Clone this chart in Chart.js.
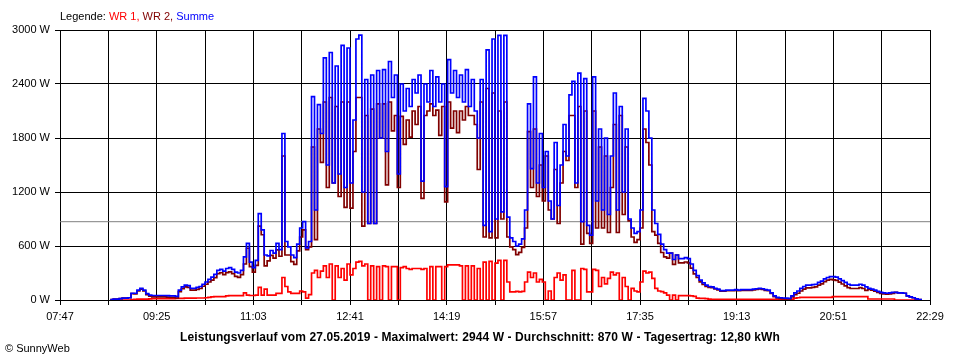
<!DOCTYPE html>
<html>
<head>
<meta charset="utf-8">
<script src="https://cdn.jsdelivr.net/npm/chart.js@4.4.1/dist/chart.umd.min.js"></script>
<style>
	body { margin: 0; background: #fff; }
	#wrap { position: relative; width: 960px; height: 360px; font-family: "Liberation Sans", Arial, sans-serif; font-size: 11px; line-height: 11px; color: #000; }
	#wrap div { position: absolute; white-space: nowrap; }
	#legende { left: 60px; top: 11px; }
	#titel { left: 0; width: 960px; top: 331px; text-align: center; font-weight: bold; font-size: 12px; line-height: 12px; letter-spacing: 0.1px; }
	#copy { left: 5px; top: 343px; }
</style>
</head>
<body>
<div id="wrap">
	<canvas id="leistung" width="960" height="360"></canvas>
	<div id="legende">Legende: <span style="color:#ff0000">WR 1,</span> <span style="color:#800000">WR 2,</span> <span style="color:#0000ff">Summe</span></div>
	<div id="titel">Leistungsverlauf vom 27.05.2019 - Maximalwert: 2944 W - Durchschnitt: 870 W - Tagesertrag: 12,80 kWh</div>
	<div id="copy">© SunnyWeb</div>
</div>
<script>
// Minuten ab 07:47, Messwerte alle 3 Minuten ab 08:38
const ersteMinute = 51;
const intervall = 3;
const achseEnde = 882;

const zeitLabels = ["07:47", "09:25", "11:03", "12:41", "14:19", "15:57", "17:35", "19:13", "20:51", "22:29"];
const durchschnitt = 870;

const summe = [
	5, 10, 10, 15, 20, 20, 25, 75, 75, 110,
	130, 110, 70, 55, 50, 50, 50, 50, 50, 48,
	45, 45, 40, 110, 145, 165, 160, 130, 130, 140,
	150, 175, 200, 230, 255, 285, 330, 340, 320, 350,
	360, 340, 310, 300, 330, 480, 630, 420, 360, 440,
	960, 780, 500, 490, 550, 520, 630, 560, 1850, 650,
	590, 500, 470, 620, 800,
	870, 580, 650, 2260, 1000, 2170, 1850, 2690, 1500, 2750,
	1300, 2600, 1400, 2830, 1250, 2800, 1300, 2000, 2900, 2944,
	1200, 2450, 850, 2500, 850, 2550, 1800, 2560, 1650, 2650,
	2250, 2500, 1400, 2400, 2100, 2350, 2150,
	2450, 2300, 2500, 1320, 2400, 2200, 2550, 2150, 2480, 2200,
	2400, 1260, 2670, 2300, 2550, 2250, 2500, 2200, 2560, 2150,
	2450, 2100, 1800, 2450, 830, 2780, 760, 2900, 900, 2940,
	980, 2940, 920, 690, 650, 600, 620, 680, 1000, 2180,
	1460, 2480, 1300, 1850, 1250, 1650, 1100, 900, 1750, 1050,
	1500, 1950, 1600, 2280, 2430, 1300, 2520, 870, 2460, 830,
	720, 2480, 1100, 1900, 1000, 1800, 950, 1600, 2300, 1000,
	2150, 1200, 1900, 900, 800, 740, 760, 1000, 2240, 2100,
	1800,
	1000, 850, 730, 620, 560, 520, 520, 450, 500, 460,
	460, 470, 460, 400, 330, 270, 220, 190, 165, 150,
	145, 130, 120, 105, 105, 110, 110, 110, 115, 110,
	115, 115, 115, 115, 120, 125, 130, 125, 115, 110,
	80, 45, 30, 25, 22, 20, 18, 45, 80, 100,
	130, 150, 165, 165, 170, 175, 195, 210, 235, 250,
	260, 260, 255, 235, 215, 195, 175, 165, 165, 165,
	175, 165, 145, 130, 120, 110, 95, 85, 80, 75,
	80, 85, 85, 80, 80, 75, 45, 35, 25, 12,
	5, 0
];

const wr1 = [
	0, 0, 0, 0, 0, 0, 0, 5, 8, 10,
	10, 10, 10, 12, 15, 15, 15, 15, 15, 15,
	15, 15, 18, 18, 18, 20, 20, 20, 20, 22,
	22, 22, 25, 30, 35, 37, 37, 37, 37, 45,
	48, 48, 48, 48, 48, 80, 55, 50, 50, 55,
	140, 55, 120, 55, 55, 55, 74, 74, 250, 150,
	90, 74, 74, 74, 100,
	90, 20, 60, 300, 330, 250, 320, 380, 250, 400,
	0, 380, 250, 350, 220, 400, 280, 350, 420, 430,
	380, 400, 0, 380, 0, 370, 0, 380, 370, 0,
	370, 370, 0, 360, 370, 350, 340,
	350, 350, 350, 340, 350, 0, 370, 0, 370, 370,
	0, 370, 390, 390, 390, 390, 380, 0, 380, 0,
	380, 0, 350, 0, 420, 0, 430, 0, 410, 440,
	0, 440, 200, 90, 90, 95, 90, 95, 200, 310,
	250, 300, 200, 230, 200, 0, 100, 0, 250, 300,
	220, 280, 0, 0, 330, 0, 0, 350, 340, 90,
	90, 340, 330, 150, 250, 180, 240, 310, 280, 300,
	0, 250, 150, 0, 130, 100, 90, 200, 320, 300,
	310,
	240, 130, 100, 92, 80, 55, 0, 55, 0, 48,
	48, 48, 48, 45, 40, 20, 18, 18, 15, 10,
	8, 7, 7, 7, 7, 7, 7, 7, 7, 7,
	7, 7, 7, 7, 7, 7, 7, 7, 7, 7,
	7, 7, 7, 7, 7, 7, 7, 10, 20, 25,
	30, 30, 30, 30, 30, 30, 30, 30, 30, 30,
	30, 37, 37, 37, 37, 37, 37, 37, 37, 37,
	37, 37, 37, 11, 11, 11, 11, 11, 11, 11,
	11, 11, 0, 0, 0, 0, 0, 0, 0, 0,
	0, 0
];

const wr2 = [
	5, 10, 10, 15, 20, 20, 25, 70, 67, 100,
	120, 100, 60, 43, 35, 35, 35, 35, 35, 33,
	30, 30, 22, 92, 127, 145, 140, 110, 110, 118,
	128, 153, 175, 200, 220, 248, 293, 303, 283, 305,
	312, 292, 262, 252, 282, 400, 575, 370, 310, 385,
	820, 725, 380, 435, 495, 465, 556, 486, 1600, 500,
	500, 426, 396, 546, 700,
	780, 560, 590, 1700, 670, 1900, 1530, 2200, 1250, 2250,
	1300, 2150, 1150, 2200, 1030, 2200, 1020, 1650, 2250, 2250,
	820, 2050, 850, 2120, 850, 2180, 1800, 2180, 1280, 2200,
	1880, 2050, 1250, 2040, 1730, 2000, 1810,
	2100, 1950, 2150, 1130, 2050, 2100, 2180, 2050, 2110, 1830,
	2150, 1090, 2200, 1910, 2100, 1860, 2100, 2000, 2150, 2050,
	2050, 1950, 1450, 2200, 700, 2350, 690, 2300, 690, 2100,
	900, 2200, 700, 590, 560, 505, 530, 585, 800, 1870,
	1250, 1900, 1150, 1500, 1100, 1600, 1000, 900, 1450, 850,
	1300, 1650, 1550, 2050, 2050, 1250, 2150, 620, 2100, 740,
	630, 2100, 800, 1700, 800, 1600, 750, 1250, 1950, 750,
	2050, 950, 1700, 880, 700, 640, 670, 800, 1900, 1750,
	1500,
	760, 720, 630, 528, 480, 465, 520, 395, 500, 412,
	412, 422, 412, 355, 290, 250, 202, 172, 150, 140,
	137, 123, 113, 98, 98, 103, 103, 103, 108, 103,
	108, 108, 108, 108, 113, 118, 123, 118, 108, 103,
	73, 38, 23, 18, 15, 13, 11, 35, 60, 75,
	100, 120, 135, 135, 140, 145, 165, 180, 205, 220,
	230, 223, 218, 198, 178, 158, 138, 128, 128, 128,
	138, 128, 108, 119, 109, 99, 84, 74, 69, 64,
	69, 74, 85, 80, 80, 75, 45, 35, 25, 12,
	5, 0
];

function punkte(werte) {
	return werte.map((w, i) => ({ x: ersteMinute + i * intervall, y: w }));
}

const schrift = { family: '"Liberation Sans", Arial, sans-serif', size: 11 };

const data = {
	datasets: [
		{ label: 'Summe', data: punkte(summe), borderColor: '#0000ff', order: 0 },
		{ label: 'WR 2', data: punkte(wr2), borderColor: '#800000', order: 1 },
		{ label: 'WR 1', data: punkte(wr1), borderColor: '#ff0000', order: 2 },
		{ label: 'Durchschnitt', data: [{ x: 0, y: durchschnitt }, { x: achseEnde, y: durchschnitt }], borderColor: '#808080', borderWidth: 1, stepped: false, order: 3 }
	]
};

const config = {
	type: 'line',
	data: data,
	options: {
		responsive: false,
		animation: false,
		devicePixelRatio: 1,
		layout: { padding: { top: 30, right: 30, left: 0, bottom: 0 } },
		elements: {
			point: { radius: 0 },
			line: { borderWidth: 1.7, stepped: true, tension: 0 }
		},
		plugins: { legend: { display: false }, tooltip: { enabled: false } },
		scales: {
			x: {
				type: 'linear',
				min: 0,
				max: achseEnde,
				afterFit(scale) { scale.height = 60; },
				grid: { color: '#000', lineWidth: 1, tickLength: 5, tickColor: '#000' },
				border: { color: '#000', width: 1 },
				ticks: {
					stepSize: 49,
					autoSkip: false,
					maxRotation: 0,
					padding: 5,
					color: '#000',
					font: schrift,
					callback: (v, i) => (i % 2 == 0 ? zeitLabels[i / 2] : '')
				}
			},
			y: {
				min: 0,
				max: 3000,
				afterFit(scale) { scale.width = 60; },
				grid: { color: '#000', lineWidth: 1, tickLength: 5, tickColor: '#000' },
				border: { color: '#000', width: 1 },
				ticks: {
					stepSize: 600,
					padding: 5,
					color: '#000',
					font: schrift,
					callback: v => v + ' W'
				}
			}
		}
	}
};

var myChart = new Chart(document.getElementById('leistung'), config);
</script>
</body>
</html>
